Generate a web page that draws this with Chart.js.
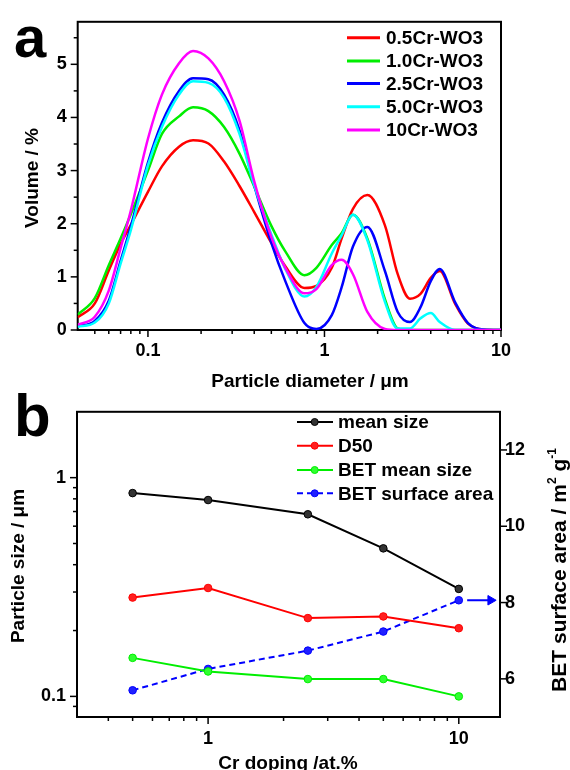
<!DOCTYPE html>
<html>
<head>
<meta charset="utf-8">
<title>Particle size distribution of Cr-doped WO3</title>
<script src="https://cdn.jsdelivr.net/npm/chart.js@4.4.1/dist/chart.umd.min.js"></script>
<style>
html, body { margin:0; padding:0; background:#ffffff; }
body { width:570px; height:770px; position:relative; overflow:hidden; }
canvas { position:absolute; left:0; display:block; }
#chartA { top:0; }
#chartB { top:390px; }
.panel { position:absolute; font-family:"Liberation Sans", Arial, sans-serif; font-weight:bold; color:#000; line-height:1; margin:0; }
</style>
</head>
<body>
<canvas id="chartA" width="570" height="390"></canvas>
<canvas id="chartB" width="570" height="380"></canvas>
<div class="panel" style="left:14px; top:8px; font-size:58px;">a</div>
<div class="panel" style="left:14px; top:386px; font-size:60px;">b</div>
<script>
// ================= Panel a data (volume distribution) =================
const diameters = [0.04, 0.05, 0.06, 0.07, 0.08, 0.1, 0.12, 0.15, 0.18, 0.22, 0.27, 0.33, 0.4, 0.5, 0.6, 0.77, 0.9, 1.1, 1.25, 1.45, 1.75, 2.2, 2.6, 3.05, 3.5, 4.0, 4.5, 5.5, 6.5, 8, 10];
const vol05Cr = [0.24, 0.50, 1.12, 1.62, 1.98, 2.60, 3.08, 3.45, 3.57, 3.51, 3.17, 2.71, 2.22, 1.64, 1.20, 0.79, 0.83, 1.17, 1.72, 2.28, 2.54, 1.97, 1.05, 0.59, 0.68, 0.98, 1.11, 0.49, 0.12, 0.01, 0];
const vol10Cr = [0.29, 0.60, 1.22, 1.72, 2.18, 3.00, 3.69, 4.02, 4.19, 4.12, 3.82, 3.32, 2.70, 1.96, 1.48, 1.03, 1.17, 1.60, 1.82, 2.17, 1.72, 0.58, 0.03, 0, 0, 0, 0, 0, 0, 0, 0];
const vol25Cr = [0.07, 0.17, 0.55, 1.30, 1.95, 3.15, 3.90, 4.50, 4.74, 4.72, 4.43, 3.76, 2.72, 1.64, 0.92, 0.13, 0.02, 0.28, 0.80, 1.57, 1.94, 1.11, 0.34, 0.15, 0.43, 0.92, 1.15, 0.52, 0.13, 0.01, 0];
const vol50Cr = [0.06, 0.14, 0.50, 1.25, 1.88, 3.10, 3.82, 4.43, 4.68, 4.65, 4.37, 3.69, 2.72, 1.80, 1.15, 0.63, 0.81, 1.44, 1.78, 2.17, 1.69, 0.53, 0.03, 0.03, 0.22, 0.32, 0.15, 0, 0, 0, 0];
const vol100Cr = [0.10, 0.25, 0.74, 1.54, 2.25, 3.60, 4.43, 5.02, 5.25, 5.11, 4.68, 3.94, 2.80, 1.75, 1.17, 0.69, 0.77, 1.22, 1.32, 1.05, 0.34, 0.02, 0, 0, 0, 0, 0, 0, 0, 0, 0];
const seriesNamesA = ['0.5Cr-WO3', '1.0Cr-WO3', '2.5Cr-WO3', '5.0Cr-WO3', '10Cr-WO3'];
const xTicksA = [0.1, 1, 10];
const xMinorA = [0.05, 0.06, 0.07, 0.08, 0.09, 0.2, 0.3, 0.4, 0.5, 0.6, 0.7, 0.8, 0.9, 2, 3, 4, 5, 6, 7, 8, 9];
const yTicksA = [0, 1, 2, 3, 4, 5];
const yMinorA = [0.5, 1.5, 2.5, 3.5, 4.5, 5.5];

// ================= Panel b data (size vs Cr doping) =================
const doping = [0.5, 1, 2.5, 5, 10];
const meanSize = [0.85, 0.79, 0.68, 0.475, 0.31];
const d50Size = [0.283, 0.313, 0.228, 0.232, 0.205];
const betMeanSize = [0.15, 0.13, 0.12, 0.12, 0.10];
const betSurfaceArea = [5.70, 6.26, 6.74, 7.24, 8.06];
const arrowX = [10.8, 13.4];
const seriesNamesB = ['mean size', 'D50', 'BET mean size', 'BET surface area'];
const xTicksB = [1, 10];
const xMinorB = [0.4, 0.5, 0.6, 0.7, 0.8, 0.9, 2, 3, 4, 5, 6, 7, 8, 9];
const yTicksB = [0.1, 1];
const yMinorB = [0.09, 0.2, 0.3, 0.4, 0.5, 0.6, 0.7, 0.8, 0.9];
const y2TicksB = [6, 8, 10, 12];

// ================= common =================
const FF = '"Liberation Sans", Arial, Helvetica, sans-serif';
Chart.defaults.font.family = FF;
Chart.defaults.font.size = 18;
Chart.defaults.font.weight = 'bold';
Chart.defaults.color = '#000';

function frameAndTicks(spec) {
  return {
    id: 'frameTicks',
    beforeDatasetsDraw(chart) {
      const ctx = chart.ctx, a = chart.chartArea;
      ctx.save();
      ctx.strokeStyle = '#000';
      spec.forEach(t => {
        const sc = chart.scales[t.axis];
        [[t.major, 7], [t.minor || [], 4]].forEach(([vals, len]) => {
          vals.forEach(v => {
            const p = sc.getPixelForValue(v);
            ctx.beginPath();
            ctx.lineWidth = 1.5;
            if (t.side === 'bottom') { ctx.moveTo(p, a.bottom); ctx.lineTo(p, a.bottom + len); }
            else if (t.side === 'left') { ctx.moveTo(a.left, p); ctx.lineTo(a.left - len, p); }
            else { ctx.moveTo(a.right, p); ctx.lineTo(a.right + len, p); }
            ctx.stroke();
          });
        });
      });
      ctx.lineWidth = 2;
      ctx.strokeRect(a.left, a.top, a.right - a.left, a.bottom - a.top);
      ctx.restore();
    }
  };
}

function textAt(ctx, parts, x, y, rot, align) {
  ctx.save();
  ctx.translate(x, y);
  if (rot) ctx.rotate(rot);
  ctx.textBaseline = 'alphabetic';
  ctx.fillStyle = '#000';
  let total = 0;
  parts.forEach(p => { ctx.font = 'bold ' + p.size + 'px ' + FF; p.w = ctx.measureText(p.text).width; total += p.w; });
  let cx = align === 'center' ? -total / 2 : 0;
  parts.forEach(p => {
    ctx.font = 'bold ' + p.size + 'px ' + FF;
    ctx.textAlign = 'left';
    ctx.fillText(p.text, cx, p.dy || 0);
    cx += p.w;
  });
  ctx.restore();
}

function fixedBox(size, dim) {
  return (scale) => { scale[dim] = size; };
}

// ================= Chart A =================
const colorsA = ['#ff0000', '#00ee00', '#0000ff', '#00ffff', '#ff00ff'];
const valuesA = [vol05Cr, vol10Cr, vol25Cr, vol50Cr, vol100Cr];

const legendA = {
  id: 'legendA',
  afterDraw(chart) {
    const ctx = chart.ctx;
    const rows = [37.7, 61, 83.5, 106.7, 130];
    ctx.save();
    chart.data.datasets.forEach((ds, i) => {
      const y = rows[i];
      ctx.strokeStyle = ds.borderColor; ctx.lineWidth = 3;
      ctx.beginPath(); ctx.moveTo(347, y); ctx.lineTo(380, y); ctx.stroke();
      ctx.fillStyle = '#000';
      ctx.font = 'bold 19px ' + FF;
      ctx.textBaseline = 'middle'; ctx.textAlign = 'left';
      ctx.fillText(ds.label, 386, y + 1);
    });
    textAt(ctx, [{text: 'Particle diameter / μm', size: 19}], 310, 387, 0, 'center');
    textAt(ctx, [{text: 'Volume / %', size: 19}], 37.5, 178, -Math.PI / 2, 'center');
    ctx.restore();
  }
};

new Chart(document.getElementById('chartA'), {
  type: 'line',
  data: {
    datasets: seriesNamesA.map((name, i) => ({
      label: name,
      data: diameters.map((d, j) => ({ x: d, y: valuesA[i][j] })),
      borderColor: colorsA[i],
      borderWidth: 2.5,
      pointRadius: 0,
      fill: false,
      cubicInterpolationMode: 'monotone',
      order: seriesNamesA.length - i
    }))
  },
  options: {
    responsive: false,
    devicePixelRatio: 1,
    animation: false,
    layout: { padding: { left: 0, right: 69, top: 16.5, bottom: 0 } },
    plugins: { legend: { display: false }, tooltip: { enabled: false } },
    scales: {
      x: {
        type: 'logarithmic', min: 0.04, max: 10,
        grid: { display: false, drawTicks: false },
        border: { display: false },
        afterBuildTicks: (s) => { s.ticks = xTicksA.map(v => ({ value: v })); },
        afterFit: fixedBox(60, 'height'),
        ticks: { padding: 10, autoSkip: false, maxRotation: 0, callback: (v) => String(v) }
      },
      y: {
        type: 'linear', min: 0, max: 5.8,
        grid: { display: false, drawTicks: false },
        border: { display: false },
        afterBuildTicks: (s) => { s.ticks = yTicksA.map(v => ({ value: v })); },
        afterFit: fixedBox(77.7, 'width'),
        ticks: { padding: 11, callback: (v) => String(v) }
      }
    }
  },
  plugins: [frameAndTicks([
    { axis: 'x', side: 'bottom', major: xTicksA, minor: xMinorA },
    { axis: 'y', side: 'left', major: yTicksA, minor: yMinorA }
  ]), legendA]
});

// ================= Chart B =================
const colorsB = ['#000000', '#ff0000', '#00ee00', '#0000ff'];
const pointFillB = ['#333333', '#ff2020', '#30ff30', '#2020ff'];
const valuesB = [meanSize, d50Size, betMeanSize, betSurfaceArea];
const axesB = ['y', 'y', 'y', 'y2'];
const dashB = [[], [], [], [6, 4]];

const legendB = {
  id: 'legendB',
  afterDraw(chart) {
    const ctx = chart.ctx;
    const rows = [32, 55.7, 80, 103.3];
    ctx.save();
    for (let i = 0; i < 4; i++) {
      const ds = chart.data.datasets[i];
      const y = rows[i];
      ctx.strokeStyle = ds.borderColor; ctx.lineWidth = 2;
      ctx.setLineDash(ds.borderDash || []);
      ctx.beginPath(); ctx.moveTo(297, y); ctx.lineTo(333, y); ctx.stroke();
      ctx.setLineDash([]);
      ctx.beginPath(); ctx.arc(314.7, y, 3.5, 0, Math.PI * 2);
      ctx.fillStyle = ds.pointBackgroundColor; ctx.fill();
      ctx.lineWidth = 1; ctx.strokeStyle = ds.pointBorderColor; ctx.stroke();
      ctx.fillStyle = '#000';
      ctx.font = 'bold 19px ' + FF;
      ctx.textBaseline = 'middle'; ctx.textAlign = 'left';
      ctx.fillText(ds.label, 338, y + 1);
    }
    textAt(ctx, [{text: 'Cr doping /at.%', size: 19}], 288, 379, 0, 'center');
    textAt(ctx, [{text: 'Particle size / μm', size: 19}], 24, 176, -Math.PI / 2, 'center');
    textAt(ctx, [
      {text: 'BET surface area / m', size: 21},
      {text: '2', size: 12, dy: -10},
      {text: ' g', size: 21},
      {text: '-1', size: 12, dy: -10}
    ], 566, 180, -Math.PI / 2, 'center');
    ctx.restore();
  }
};

const datasetsB = seriesNamesB.map((name, i) => ({
  label: name,
  data: doping.map((x, j) => ({ x: x, y: valuesB[i][j] })),
  borderColor: colorsB[i],
  borderWidth: 2,
  borderDash: dashB[i],
  pointRadius: 3.8,
  pointBackgroundColor: pointFillB[i],
  pointBorderColor: colorsB[i],
  pointBorderWidth: 1,
  tension: 0,
  fill: false,
  yAxisID: axesB[i]
}));
datasetsB.push({
  label: '',
  data: arrowX.map(x => ({ x: x, y: betSurfaceArea[betSurfaceArea.length - 1] })),
  borderColor: '#0000ff',
  borderWidth: 2,
  pointStyle: 'triangle',
  rotation: 90,
  pointRadius: [0, 5.5],
  pointBackgroundColor: '#0000ff',
  pointBorderColor: '#0000ff',
  pointBorderWidth: 1,
  fill: false,
  yAxisID: 'y2'
});

new Chart(document.getElementById('chartB'), {
  type: 'line',
  data: { datasets: datasetsB },
  options: {
    responsive: false,
    devicePixelRatio: 1,
    animation: false,
    layout: { padding: { left: 0, right: 0, top: 16, bottom: 0 } },
    plugins: { legend: { display: false }, tooltip: { enabled: false } },
    scales: {
      x: {
        type: 'logarithmic', min: 0.342, max: 14.6,
        grid: { display: false, drawTicks: false },
        border: { display: false },
        afterBuildTicks: (s) => { s.ticks = xTicksB.map(v => ({ value: v })); },
        afterFit: fixedBox(53, 'height'),
        ticks: { padding: 11, autoSkip: false, maxRotation: 0, callback: (v) => String(v) }
      },
      y: {
        type: 'logarithmic', position: 'left', min: 0.0805, max: 2.0,
        grid: { display: false, drawTicks: false },
        border: { display: false },
        afterBuildTicks: (s) => { s.ticks = yTicksB.map(v => ({ value: v })); },
        afterFit: fixedBox(77, 'width'),
        ticks: { padding: 11, callback: (v) => String(v) }
      },
      y2: {
        type: 'linear', position: 'right', min: 5, max: 13,
        grid: { display: false, drawTicks: false },
        border: { display: false },
        afterBuildTicks: (s) => { s.ticks = y2TicksB.map(v => ({ value: v })); },
        afterFit: fixedBox(70, 'width'),
        ticks: { padding: 5, callback: (v) => String(v) }
      }
    }
  },
  plugins: [frameAndTicks([
    { axis: 'x', side: 'bottom', major: xTicksB, minor: xMinorB },
    { axis: 'y', side: 'left', major: yTicksB, minor: yMinorB },
    { axis: 'y2', side: 'right', major: y2TicksB, minor: [] }
  ]), legendB]
});
</script>
</body>
</html>
